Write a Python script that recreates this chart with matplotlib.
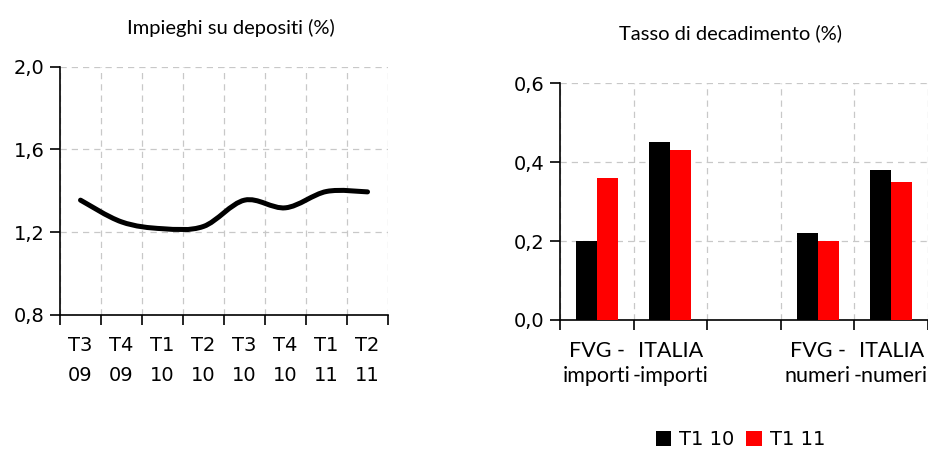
import matplotlib.pyplot as plt
import numpy as np
from matplotlib.path import Path
from matplotlib.patches import PathPatch

# left chart data
quarters = ['T3\n09', 'T4\n09', 'T1\n10', 'T2\n10', 'T3\n10', 'T4\n10', 'T1\n11', 'T2\n11']
impieghi = [1.355, 1.25, 1.217, 1.228, 1.355, 1.318, 1.397, 1.395]

# right chart data
categorie = ['FVG -\nimporti', 'ITALIA\n-importi', '', 'FVG -\nnumeri', 'ITALIA\n-numeri']
t1_10 = [0.20, 0.45, np.nan, 0.22, 0.38]
t1_11 = [0.36, 0.43, np.nan, 0.20, 0.35]
legend_labels = ['T1 10', 'T1 11']

txt_font = ['Lato', 'DejaVu Sans']
num_font = ['DejaVu Sans']
grid_kw = dict(color='#c8c8c8', linestyle=(0, (5, 4)), linewidth=0.9)


def comma(v, pos):
    return ('%.1f' % v).replace('.', ',')


def smooth_path(xs, ys, t=1 / 3):
    # bezier curve through the points (like a spreadsheet "smoothed line")
    xs = np.asarray(xs, float)
    ys = np.asarray(ys, float)
    verts = [(xs[0], ys[0])]
    codes = [Path.MOVETO]
    n = len(xs)
    for i in range(n - 1):
        p0 = np.array([xs[max(i - 1, 0)], ys[max(i - 1, 0)]])
        p1 = np.array([xs[i], ys[i]])
        p2 = np.array([xs[i + 1], ys[i + 1]])
        p3 = np.array([xs[min(i + 2, n - 1)], ys[min(i + 2, n - 1)]])
        c1 = p1 + (p2 - p0) * t / 2
        c2 = p2 - (p3 - p1) * t / 2
        verts += [tuple(c1), tuple(c2), tuple(p2)]
        codes += [Path.CURVE4] * 3
    return Path(verts, codes)


fig = plt.figure(figsize=(9.29, 4.51), dpi=100)

# ---- left: line chart
ax1 = fig.add_axes([0.0646, 0.3016, 0.3531, 0.5505])
x = np.arange(len(quarters))
ax1.add_patch(PathPatch(smooth_path(x, impieghi), facecolor='none', edgecolor='black',
                        linewidth=3.6, capstyle='round', joinstyle='round', zorder=3))
ax1.set_xlim(-0.5, len(quarters) - 0.5)
ax1.set_ylim(0.8, 2.0)
ax1.set_yticks([0.8, 1.2, 1.6, 2.0])
ax1.yaxis.set_major_formatter(plt.FuncFormatter(comma))
ax1.set_xticks(x)
ax1.set_xticklabels(quarters, fontfamily=num_font, fontsize=14, linespacing=1.75)
ax1.set_xticks(np.arange(len(quarters) + 1) - 0.5, minor=True)
ax1.tick_params(axis='x', which='major', length=0, pad=15)
ax1.tick_params(axis='x', which='minor', length=7, width=1.2, direction='out')
ax1.tick_params(axis='y', length=7, width=1.2, direction='out', labelsize=14, pad=4)
for lab in ax1.get_yticklabels():
    lab.set_fontfamily(num_font)
ax1.grid(True, axis='y', which='major', **grid_kw)
ax1.grid(True, axis='x', which='minor', **grid_kw)
for s in ['top', 'right']:
    ax1.spines[s].set_visible(False)
for s in ['left', 'bottom']:
    ax1.spines[s].set_linewidth(1.2)
ax1.set_axisbelow(True)
fig.text(0.248, 0.937, 'Impieghi su depositi (%)', ha='center', va='center', fontsize=14.5, family=txt_font)

# ---- right: bar chart
ax2 = fig.add_axes([0.6028, 0.2905, 0.3961, 0.5248])
xb = np.arange(len(categorie))
w = 0.285
ax2.bar(xb - w / 2, t1_10, width=w, color='black', label=legend_labels[0], zorder=3)
ax2.bar(xb + w / 2, t1_11, width=w, color='#ff0000', label=legend_labels[1], zorder=3)
ax2.set_xlim(-0.5, len(categorie) - 0.5)
ax2.set_ylim(0, 0.6)
ax2.set_yticks([0.0, 0.2, 0.4, 0.6])
ax2.yaxis.set_major_formatter(plt.FuncFormatter(comma))
ax2.set_xticks(xb)
ax2.set_xticklabels(categorie, fontfamily=txt_font, fontsize=15.5, linespacing=1.35)
ax2.set_xticks(np.arange(len(categorie) + 1) - 0.5, minor=True)
ax2.tick_params(axis='x', which='major', length=0, pad=15)
ax2.tick_params(axis='x', which='minor', length=7, width=1.2, direction='out')
ax2.tick_params(axis='y', length=7, width=1.2, direction='out', labelsize=14, pad=4)
for lab in ax2.get_yticklabels():
    lab.set_fontfamily(num_font)
ax2.grid(True, axis='y', which='major', **grid_kw)
ax2.grid(True, axis='x', which='minor', **grid_kw)
for s in ['top', 'right']:
    ax2.spines[s].set_visible(False)
for s in ['left', 'bottom']:
    ax2.spines[s].set_linewidth(1.2)
ax2.set_axisbelow(True)
fig.text(0.786, 0.927, 'Tasso di decadimento (%)', ha='center', va='center', fontsize=14.5, family=txt_font)

fig.legend(loc='center', bbox_to_anchor=(0.797, 0.025), ncol=2, frameon=False,
           handlelength=0.8, handleheight=0.8, handletextpad=0.4, columnspacing=0.6,
           prop={'family': num_font, 'size': 14})

fig.savefig('out.png', dpi=100)
